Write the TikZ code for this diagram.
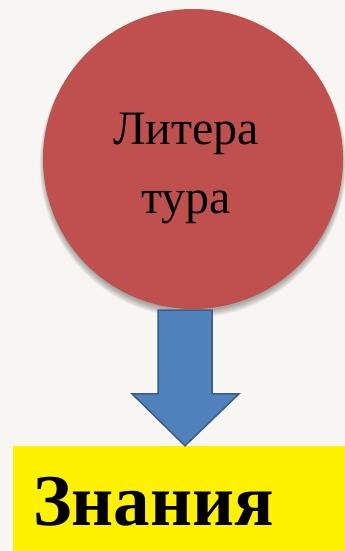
\documentclass[tikz,border=0pt]{standalone}
\usepackage{fontspec}
\setmainfont{Liberation Serif}
\usetikzlibrary{positioning}
\definecolor{paper}{HTML}{F7F6F2}
\definecolor{litred}{HTML}{C0504D}
\definecolor{arrowblue}{HTML}{4F81BD}
\definecolor{arrowedge}{HTML}{385D8A}
\tikzset{
  bigcircle/.style={circle,fill=litred,minimum size=300pt,inner sep=0pt},
  yellowbox/.style={rectangle,fill=yellow,minimum width=332pt,minimum height=105pt,inner sep=0pt},
  blockarrow/.style={fill=arrowblue,draw=arrowedge,line width=1.5pt,line join=miter}
}
\begin{document}
\begin{tikzpicture}[x=1pt,y=1pt]
  \fill[paper] (0,0) rectangle (345,-551);
  \useasboundingbox (0,0) rectangle (345,-551);
  % soft shadow under the circle
  \foreach \r in {0,...,6}
    \fill[black,opacity=0.05] (193,{-162-\r*0.4}) circle ({149+\r*0.7});
  \node[bigcircle] (lit) at (193,-159) {};
  \node[font=\fontsize{48}{69}\selectfont,align=center] (littext) at ([xshift=-7pt,yshift=-9pt]lit.center) {Литера\\тура};
  \node[yellowbox] (know) at (179,-498.5) {};
  \node[font=\fontsize{73}{80}\selectfont\bfseries,anchor=base west,inner sep=0pt] (knowtext) at (33,-525) {Знания};
  % arrow
  \coordinate (top) at (185,-310);
  \coordinate (tip) at (top |- know.north);
  \draw[blockarrow] ([xshift=-27pt]top) -- ([xshift=27pt]top)
    -- ([shift={(27pt,52pt)}]tip) -- ([shift={(54pt,52pt)}]tip) -- (tip)
    -- ([shift={(-53pt,52pt)}]tip) -- ([shift={(-27pt,52pt)}]tip) -- cycle;
\end{tikzpicture}
\end{document}
